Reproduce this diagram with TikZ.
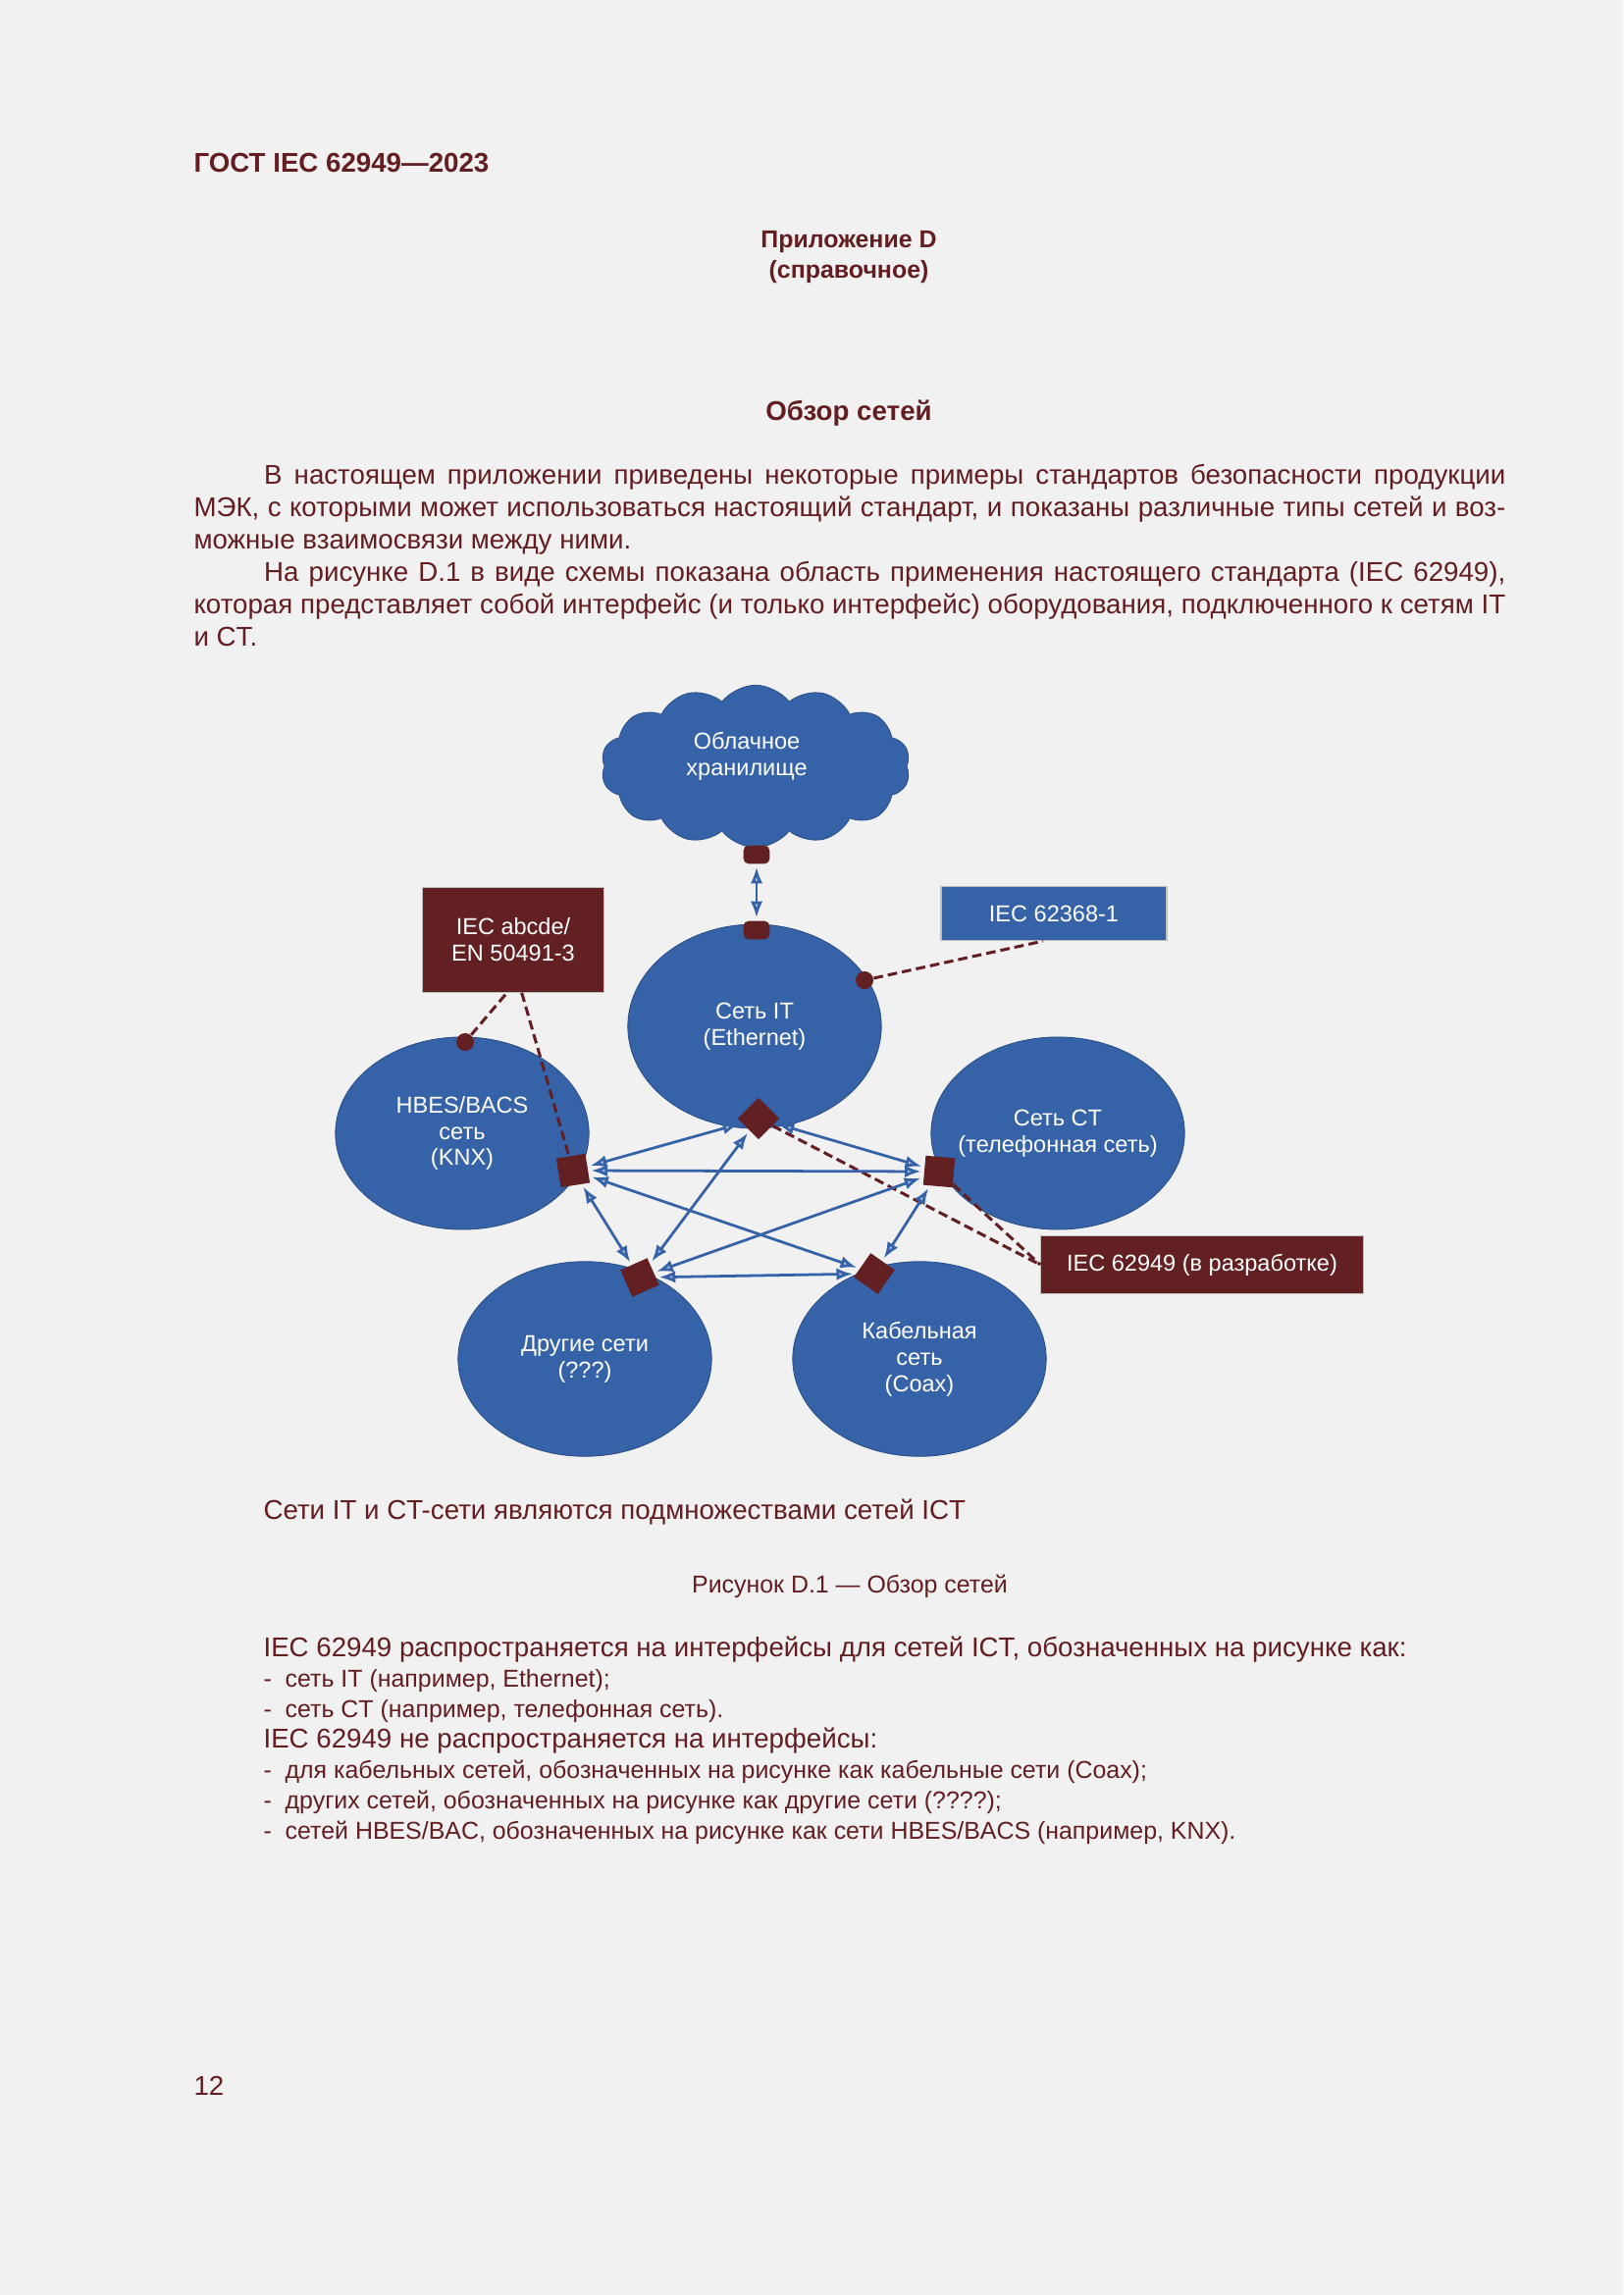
\documentclass[tikz,border=0pt]{standalone}
\usepackage{fontspec}
\setmainfont{Liberation Sans}
\usetikzlibrary{arrows.meta,shapes.symbols,shapes.geometric}
\definecolor{pagebg}{RGB}{241,241,241}
\definecolor{ink}{RGB}{98,30,33}
\definecolor{netblue}{RGB}{54,98,168}
\definecolor{boxred}{RGB}{99,32,35}
\definecolor{headfill}{RGB}{170,190,222}
\newlength\tw \setlength\tw{16.97cm}
\newlength\ind \setlength\ind{0.91cm}
\newcommand\jl[1]{\makebox[\tw][s]{#1}\par}
\newcommand\jli[1]{\hspace*{\ind}\makebox[\dimexpr\tw-\ind\relax][s]{#1}\par}
\newcommand\lhead{\fontsize{10}{11.2}\selectfont}
\newcommand\litem{\fontsize{9}{11.2}\selectfont}
\begin{document}
\begin{tikzpicture}[x=0.0127cm, y=-0.0127cm,
	every node/.style={inner sep=0pt, text=ink},
	net/.style={ellipse, fill=netblue, draw=netblue!80!black, line width=0.3pt, text=white, align=center, font=\fontsize{8.5}{9.7}\selectfont, minimum width=3.28cm},
	port/.style={rectangle, fill=boxred, minimum size=0.38cm},
	plug/.style={rectangle, rounded corners=2pt, fill=boxred, minimum width=0.34cm, minimum height=0.24cm},
	dot/.style={circle, fill=boxred, minimum size=0.23cm},
	stdbox/.style={rectangle, fill=boxred, draw=gray!50, line width=0.4pt, text=white, align=center, font=\fontsize{8.5}{9.7}\selectfont},
	link/.style={draw=netblue, line width=1pt, >={Latex[length=6pt,width=4.5pt,fill=headfill]}, <->, shorten <=1pt, shorten >=1pt},
	lead/.style={draw=boxred, line width=1.1pt, dash pattern=on 3.5pt off 1.8pt}]
	\fill[pagebg] (0,0) rectangle (1654,2339);
	\useasboundingbox (0,0) rectangle (1654,2339);

	% page head and text
	\node[anchor=base west, font=\bfseries\fontsize{10}{12}\selectfont] (gost) at (197,176) {ГОСТ IEC 62949—2023};
	\node[align=center, font=\bfseries\fontsize{9}{11.2}\selectfont] (annex) at (865,262) {Приложение D\\(справочное)};
	\node[font=\bfseries\fontsize{10}{12}\selectfont] (title) at (865,421) {Обзор сетей};
	\node[anchor=base west, font=\fontsize{10}{11.9}\selectfont] (intro) at (197,494) {\parbox[t]{\tw}{%
		\jli{В настоящем приложении приведены некоторые примеры стандартов безопасности продукции}
		\jl{МЭК, с которыми может использоваться настоящий стандарт, и показаны различные типы сетей и воз-}
		можные взаимосвязи между ними.\par
		\jli{На рисунке D.1 в виде схемы показана область применения настоящего стандарта (IEC 62949),}
		\jl{которая представляет собой интерфейс (и только интерфейс) оборудования, подключенного к сетям IT}
		и CT.\par}};

	% networks
	\node[cloud, cloud puffs=14, cloud puff arc=105, aspect=1.9, cloud ignores aspect, fill=netblue, draw=netblue!80!black, line width=0.3pt, minimum width=4.0cm, minimum height=2.1cm] (cloud) at (770,781) {};
	\node[align=center, text=white, font=\fontsize{8.5}{9.7}\selectfont] (cloudtxt) at (761,771) {Облачное\\хранилище};
	\node[net, minimum height=2.64cm] (it) at (769,1046) {Сеть IT\\(Ethernet)};
	\node[net, minimum height=2.49cm] (hbes) at (471,1155) {HBES/BACS\\сеть\\(KNX)};
	\node[net, minimum height=2.49cm, inner xsep=-0.25cm] (ct) at (1078,1155) {Сеть CT\\(телефонная сеть)};
	\node[net, minimum height=2.52cm] (other) at (596,1385) {Другие сети\\(???)};
	\node[net, minimum height=2.52cm] (cable) at (937,1385) {Кабельная\\сеть\\(Coax)};

	% standards
	\node[stdbox, minimum width=2.34cm, minimum height=1.35cm] (abcde) at (523,958) {IEC abcde/\\EN 50491-3};
	\node[stdbox, fill=netblue, minimum width=2.92cm, minimum height=0.70cm] (iec62368) at (1074,931) {IEC 62368-1};
	\node[stdbox, minimum width=4.17cm, minimum height=0.74cm] (iec62949) at (1225,1289) {IEC 62949 (в разработке)};

	% interfaces
	\node[plug] (cloudplug) at (771,871) {};
	\node[plug] (itplug) at (771,948) {};
	\node[dot] (itdot) at (881,999) {};
	\node[dot] (hbesdot) at (474,1062) {};
	\node[port, rotate=45, minimum size=0.38cm] (pit) at (773,1140) {};
	\node[port, rotate=9] (phbes) at (584,1193) {};
	\node[port, rotate=-5] (pct) at (957,1194) {};
	\node[port, rotate=24] (pother) at (652,1302) {};
	\node[port, rotate=55] (pcable) at (891,1298) {};

	\draw[lead] (itdot) -- ([xshift=-0.14cm]iec62368.south);
	\draw[lead] (hbesdot) -- ([xshift=-0.08cm]abcde.south);
	\draw[lead] ([xshift=0.11cm]abcde.south) -- (phbes);
	\draw[lead] (pit) -- (iec62949.west);
	\draw[lead] (pct) -- (iec62949.west);

	\draw[link] (cloudplug) -- (itplug);
	\foreach \a/\b in {pit/phbes, pit/pct, pit/pother, phbes/pct, phbes/pother, phbes/pcable, pct/pother, pct/pcable, pother/pcable}
		\draw[link] (\a) -- (\b);

	% captions and scope
	\node[anchor=base west, font=\fontsize{10}{12}\selectfont] (subsets) at (268,1548) {Сети IT и CT-сети являются подмножествами сетей ICT};
	\node[anchor=base, font=\fontsize{9}{11}\selectfont] (figcap) at (866,1623) {Рисунок D.1 — Обзор сетей};
	\node[anchor=base west] (scope) at (268,1688) {\parbox[t]{\tw}{%
		{\lhead IEC 62949 распространяется на интерфейсы для сетей ICT, обозначенных на рисунке как:\par}
		{\litem -~ сеть IT (например, Ethernet);\par}
		{\litem -~ сеть CT (например, телефонная сеть).\par}
		{\lhead IEC 62949 не распространяется на интерфейсы:\par}
		{\litem -~ для кабельных сетей, обозначенных на рисунке как кабельные сети (Coax);\par}
		{\litem -~ других сетей, обозначенных на рисунке как другие сети (????);\par}
		{\litem -~ сетей HBES/BAC, обозначенных на рисунке как сети HBES/BACS (например, KNX).\par}}};
	\node[anchor=base west, font=\fontsize{10}{12}\selectfont] (pageno) at (197,2135) {12};
\end{tikzpicture}
\end{document}
